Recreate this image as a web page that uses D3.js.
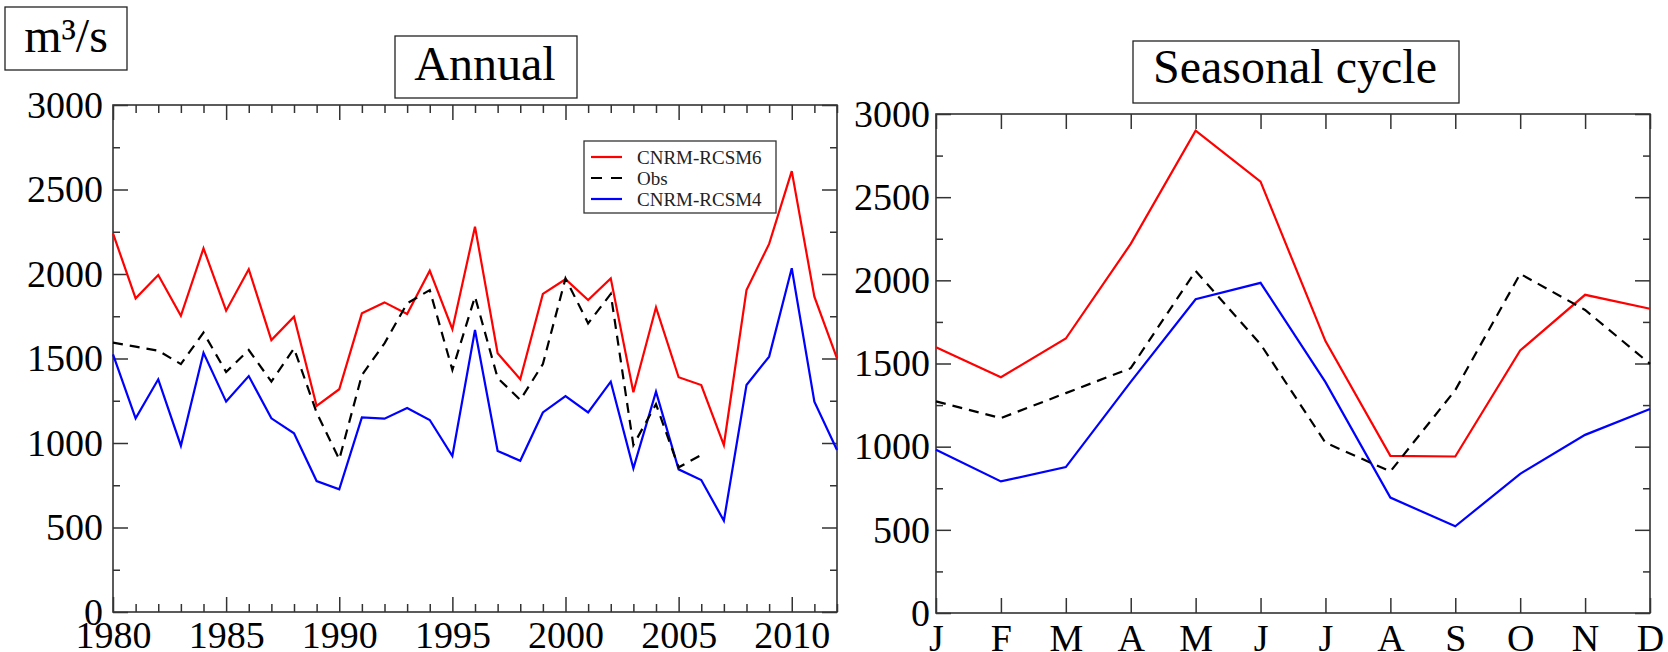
<!DOCTYPE html>
<html>
<head>
<meta charset="utf-8">
<script src="https://cdn.jsdelivr.net/npm/d3@7"></script>
<style>
  html, body { margin: 0; padding: 0; background: #fff; }
  svg { display: block; }
  text { font-family: "Liberation Serif", "Times New Roman", serif; }
</style>
</head>
<body>
<svg id="chart" width="1668" height="652"></svg>
<script>
// ---- Annual discharge, 1980-2012 (m3/s) ----
const years = [1980, 1981, 1982, 1983, 1984, 1985, 1986, 1987, 1988, 1989, 1990,
               1991, 1992, 1993, 1994, 1995, 1996, 1997, 1998, 1999, 2000, 2001,
               2002, 2003, 2004, 2005, 2006, 2007, 2008, 2009, 2010, 2011, 2012];
const annualRCSM6 = [2240, 1856, 1994, 1753, 2152, 1783, 2028, 1609, 1747, 1219, 1318,
                     1767, 1832, 1763, 2020, 1673, 2280, 1531, 1377, 1882, 1969, 1846,
                     1974, 1300, 1803, 1389, 1343, 988, 1905, 2178, 2609, 1866, 1501];
const annualObs = [1594, 1570, 1546, 1467, 1653, 1420, 1550, 1363, 1560, 1180, 903,
                   1402, 1590, 1826, 1905, 1432, 1866, 1385, 1255, 1467, 1974, 1708,
                   1882, 988, 1230, 856, 929, null, null, null, null, null, null];
const annualRCSM4 = [1525, 1146, 1377, 984, 1534, 1245, 1396, 1146, 1057, 775, 726,
                     1152, 1144, 1207, 1136, 923, 1669, 953, 895, 1181, 1278, 1181,
                     1363, 850, 1304, 844, 781, 540, 1343, 1511, 2034, 1245, 959];
const yearTickLabels = [1980, 1985, 1990, 1995, 2000, 2005, 2010];

// ---- Mean seasonal cycle (m3/s) ----
const months = ["J", "F", "M", "A", "M", "J", "J", "A", "S", "O", "N", "D"];
const seasRCSM6 = [1598, 1418, 1650, 2219, 2900, 2593, 1635, 945, 941, 1578, 1913, 1829];
const seasObs   = [1272, 1172, 1322, 1472, 2056, 1616, 1024, 851, 1340, 2039, 1822, 1498];
const seasRCSM4 = [981, 791, 877, 1390, 1886, 1985, 1388, 694, 521, 837, 1071, 1226];

const valueTicks = [0, 500, 1000, 1500, 2000, 2500, 3000];
const valueMinorTicks = [250, 750, 1250, 1750, 2250, 2750];

const seriesNames = ["CNRM-RCSM6", "Obs", "CNRM-RCSM4"];
const seriesColors = ["#ff0000", "#000000", "#0000ff"];
const seriesDash = [null, "10,7", null];

const svg = d3.select("#chart");
svg.append("rect").attr("width", 1668).attr("height", 652).attr("fill", "#fff");

const TICK_COLOR = "#333";

function styleAxis(g, fontSize) {
  g.select(".domain").remove();
  g.selectAll(".tick line").attr("stroke", TICK_COLOR).attr("stroke-width", 1.5);
  g.selectAll(".tick text")
    .attr("fill", "#000")
    .style("font-size", fontSize + "px")
    .style("font-family", '"Liberation Serif", serif');
}

function drawPanel(opts) {
  const { x, y, left, right, top, bottom, xMajor, xMinor, xFormat, xPad, yPad, series, xValues } = opts;
  const g = svg.append("g");

  // frame
  g.append("rect")
    .attr("x", left).attr("y", top)
    .attr("width", right - left).attr("height", bottom - top)
    .attr("fill", "none").attr("stroke", TICK_COLOR).attr("stroke-width", 1.6);

  // bottom axis (labelled) + top mirror
  const bx = g.append("g").attr("transform", `translate(0,${bottom})`)
    .call(d3.axisBottom(x).tickValues(xMajor).tickFormat(xFormat)
      .tickSizeInner(-15).tickSizeOuter(0).tickPadding(xPad));
  styleAxis(bx, 38);
  const tx = g.append("g").attr("transform", `translate(0,${top})`)
    .call(d3.axisTop(x).tickValues(xMajor).tickFormat("")
      .tickSizeInner(-15).tickSizeOuter(0));
  styleAxis(tx, 38);
  if (xMinor) {
    const bm = g.append("g").attr("transform", `translate(0,${bottom})`)
      .call(d3.axisBottom(x).tickValues(xMinor).tickFormat("").tickSizeInner(-8).tickSizeOuter(0));
    styleAxis(bm, 38);
    const tm = g.append("g").attr("transform", `translate(0,${top})`)
      .call(d3.axisTop(x).tickValues(xMinor).tickFormat("").tickSizeInner(-8).tickSizeOuter(0));
    styleAxis(tm, 38);
  }

  // left axis (labelled) + right mirror
  const ly = g.append("g").attr("transform", `translate(${left},0)`)
    .call(d3.axisLeft(y).tickValues(valueTicks).tickFormat(d3.format("d"))
      .tickSizeInner(-15).tickSizeOuter(0).tickPadding(yPad));
  styleAxis(ly, 38);
  const lm = g.append("g").attr("transform", `translate(${left},0)`)
    .call(d3.axisLeft(y).tickValues(valueMinorTicks).tickFormat("").tickSizeInner(-7).tickSizeOuter(0));
  styleAxis(lm, 38);
  const ry = g.append("g").attr("transform", `translate(${right},0)`)
    .call(d3.axisRight(y).tickValues(valueTicks).tickFormat("").tickSizeInner(-15).tickSizeOuter(0));
  styleAxis(ry, 38);
  const rm = g.append("g").attr("transform", `translate(${right},0)`)
    .call(d3.axisRight(y).tickValues(valueMinorTicks).tickFormat("").tickSizeInner(-7).tickSizeOuter(0));
  styleAxis(rm, 38);

  // data lines
  series.forEach((vals, i) => {
    const line = d3.line()
      .defined(d => d[1] !== null)
      .x(d => x(d[0]))
      .y(d => y(d[1]));
    g.append("path")
      .datum(xValues.map((xv, j) => [xv, vals[j]]))
      .attr("d", line)
      .attr("fill", "none")
      .attr("stroke", seriesColors[opts.order[i]])
      .attr("stroke-width", 2.2)
      .attr("stroke-linejoin", "miter")
      .attr("stroke-dasharray", seriesDash[opts.order[i]]);
  });
  return g;
}

// ---- Annual panel ----
const xYear = d3.scaleLinear().domain([1980, 2012]).range([113, 837]);
const yAnnual = d3.scaleLinear().domain([0, 3000]).range([612, 105]);
drawPanel({
  x: xYear, y: yAnnual, left: 113, right: 837, top: 105, bottom: 612,
  xMajor: yearTickLabels,
  xMinor: years.filter(v => !yearTickLabels.includes(v)),
  xFormat: d3.format("d"), xPad: 9, yPad: 10,
  xValues: years,
  series: [annualRCSM6, annualRCSM4, annualObs],
  order: [0, 2, 1]
});

// ---- Seasonal panel ----
const monthIdx = months.map((m, i) => i);
const xMonth = d3.scaleLinear().domain([0, months.length - 1]).range([936, 1650]);
const ySeason = d3.scaleLinear().domain([0, 3000]).range([613, 114]);
drawPanel({
  x: xMonth, y: ySeason, left: 936, right: 1650, top: 114, bottom: 613,
  xMajor: monthIdx, xMinor: null,
  xFormat: i => months[i], xPad: 11, yPad: 6,
  xValues: monthIdx,
  series: [seasRCSM6, seasRCSM4, seasObs],
  order: [0, 2, 1]
});

// ---- Legend (annual panel) ----
const legend = svg.append("g");
legend.append("rect")
  .attr("x", 584).attr("y", 141).attr("width", 192).attr("height", 72)
  .attr("fill", "#fff").attr("stroke", "#333").attr("stroke-width", 1.3);
seriesNames.forEach((name, i) => {
  const ly = 157 + i * 21;
  legend.append("line")
    .attr("x1", 591).attr("x2", 622).attr("y1", ly).attr("y2", ly)
    .attr("stroke", seriesColors[i]).attr("stroke-width", 2.2)
    .attr("stroke-dasharray", seriesDash[i] ? "11,9" : null);
  legend.append("text")
    .attr("x", 637).attr("y", ly).attr("dy", "0.35em")
    .style("font-size", "19px").attr("fill", "#222")
    .text(name);
});

// ---- Boxed titles ----
function boxedLabel(x0, y0, w, h, cx, baseline, label) {
  svg.append("rect")
    .attr("x", x0).attr("y", y0).attr("width", w).attr("height", h)
    .attr("fill", "#fff").attr("stroke", "#222").attr("stroke-width", 1.3);
  svg.append("text")
    .attr("x", cx).attr("y", baseline).attr("text-anchor", "middle")
    .style("font-size", "48px").attr("fill", "#000")
    .text(label);
}
boxedLabel(5, 7, 122, 63, 66, 52, "m³/s");
boxedLabel(395, 36, 182, 62, 485, 80, "Annual");
boxedLabel(1133, 41, 326, 62, 1295, 83, "Seasonal cycle");
</script>
</body>
</html>
